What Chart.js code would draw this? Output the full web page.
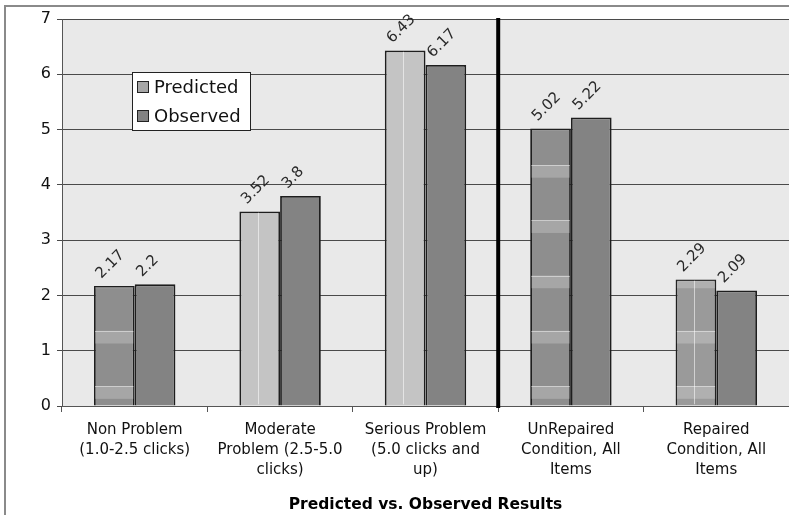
<!DOCTYPE html>
<html>
<head>
<meta charset="utf-8">
<title>Predicted vs. Observed Results</title>
<script src="https://cdn.jsdelivr.net/npm/chart.js@4/dist/chart.umd.min.js"></script>
<style>
    html, body { margin: 0; padding: 0; background: #ffffff; }
    #wrap { width: 789px; height: 515px; position: relative; }
</style>
</head>
<body>
<div id="wrap"><canvas id="resultsChart" width="789" height="515"></canvas></div>
<script>

// categories (multi-line labels as shown under the axis)
const categoryLabels = [
    ['Non Problem', '(1.0-2.5 clicks)'],
    ['Moderate', 'Problem (2.5-5.0', 'clicks)'],
    ['Serious Problem', '(5.0 clicks and', 'up)'],
    ['UnRepaired', 'Condition, All', 'Items'],
    ['Repaired', 'Condition, All', 'Items'],
]

const predictedValues = [2.17, 3.52, 6.43, 5.02, 2.29]
const observedValues = [2.2, 3.8, 6.17, 5.22, 2.09]

const yTicks = [0, 1, 2, 3, 4, 5, 6, 7]

const seriesNames = ['Predicted', 'Observed']
const predictedColors = ['#8e8e8e', '#c4c4c4', '#c4c4c4', '#8e8e8e', '#9a9a9a']
const observedColor = '#838383'
// which predicted bars get the striped fill (horizontal bands / vertical line)
const bandedBars = [true, false, false, true, true]
const ruledBars = [false, true, true, false, true]

const chartTitle = 'Predicted vs. Observed Results'


// background of the plot area + outer frame
const frameAndBackground = {
    id: 'frameAndBackground',
    beforeDraw: function(chart) {
        const ctx = chart.ctx
        const area = chart.chartArea
        ctx.save()
        ctx.fillStyle = '#ffffff'
        ctx.fillRect(0, 0, chart.width, chart.height)
        ctx.strokeStyle = '#8a8a8a'
        ctx.lineWidth = 2
        ctx.beginPath()
        ctx.moveTo(5, chart.height)
        ctx.lineTo(5, 6)
        ctx.lineTo(chart.width, 6)
        ctx.stroke()
        ctx.fillStyle = '#e9e9e9'
        ctx.fillRect(area.left, area.top, area.right - area.left, area.bottom - area.top)
        ctx.restore()
    }
}

// light bands / lines inside the predicted bars, following the y scale
const barTexture = {
    id: 'barTexture',
    afterDatasetsDraw: function(chart) {
        const ctx = chart.ctx
        const yScale = chart.scales.y
        const meta = chart.getDatasetMeta(0)
        meta.data.forEach(function(bar, j) {
            const left = bar.x - bar.width / 2 + 1
            const right = bar.x + bar.width / 2 - 1
            const top = bar.y + 1
            const bottom = bar.base - 1
            ctx.save()
            ctx.beginPath()
            ctx.rect(left, top, right - left, bottom - top)
            ctx.clip()
            if (bandedBars[j]) {
                ctx.fillStyle = 'rgba(255,255,255,0.22)'
                for (let k = 0; k < 7; k++) {
                    const y1 = yScale.getPixelForValue(k + 0.36)
                    const y2 = yScale.getPixelForValue(k + 0.13)
                    ctx.fillRect(left, y1, right - left, y2 - y1)
                    ctx.fillStyle = 'rgba(255,255,255,0.22)'
                }
                ctx.strokeStyle = 'rgba(255,255,255,0.45)'
                ctx.lineWidth = 1
                for (let k = 0; k < 7; k++) {
                    const y1 = Math.round(yScale.getPixelForValue(k + 0.36)) + 0.5
                    ctx.beginPath()
                    ctx.moveTo(left, y1)
                    ctx.lineTo(right, y1)
                    ctx.stroke()
                }
            }
            if (ruledBars[j]) {
                ctx.strokeStyle = 'rgba(255,255,255,0.55)'
                ctx.lineWidth = 1
                const x = Math.round(left + (right - left) * 0.45) + 0.5
                ctx.beginPath()
                ctx.moveTo(x, top)
                ctx.lineTo(x, bottom)
                ctx.stroke()
            }
            ctx.restore()
        })
    }
}

// thick separator between the problem groups and the condition groups
const separatorLine = {
    id: 'separatorLine',
    afterDatasetsDraw: function(chart) {
        const ctx = chart.ctx
        const xScale = chart.scales.x
        const area = chart.chartArea
        const x = (xScale.getPixelForValue(2) + xScale.getPixelForValue(3)) / 2
        ctx.save()
        ctx.strokeStyle = '#000000'
        ctx.lineWidth = 4
        ctx.beginPath()
        ctx.moveTo(x, area.top - 1)
        ctx.lineTo(x, area.bottom + 2)
        ctx.stroke()
        ctx.restore()
    }
}

// rotated value labels above each bar
const valueLabels = {
    id: 'valueLabels',
    afterDatasetsDraw: function(chart) {
        const ctx = chart.ctx
        ctx.save()
        ctx.font = '15px "DejaVu Sans"'
        ctx.fillStyle = '#2a2a2a'
        ctx.textAlign = 'left'
        ctx.textBaseline = 'alphabetic'
        chart.data.datasets.forEach(function(ds, i) {
            const meta = chart.getDatasetMeta(i)
            meta.data.forEach(function(bar, j) {
                ctx.save()
                ctx.translate(bar.x - 13, bar.y - 7)
                ctx.rotate(-Math.PI / 4)
                ctx.fillText(String(ds.data[j]), 0, 0)
                ctx.restore()
            })
        })
        ctx.restore()
    }
}

// boxed legend inside the plot, like the original
const boxLegend = {
    id: 'boxLegend',
    afterDraw: function(chart) {
        const ctx = chart.ctx
        const left = 132, top = 72, w = 118, h = 58
        ctx.save()
        ctx.fillStyle = '#ffffff'
        ctx.fillRect(left, top, w, h)
        ctx.strokeStyle = '#222222'
        ctx.lineWidth = 1
        ctx.strokeRect(left + 0.5, top + 0.5, w, h)
        ctx.font = '18px "DejaVu Sans"'
        ctx.textBaseline = 'middle'
        ctx.textAlign = 'left'
        const swatches = ['#a6a6a6', observedColor]
        seriesNames.forEach(function(name, i) {
            const y = top + 15 + i * 29
            ctx.fillStyle = swatches[i]
            ctx.fillRect(left + 5, y - 6, 12, 12)
            ctx.strokeStyle = '#222222'
            ctx.strokeRect(left + 5.5, y - 5.5, 11, 11)
            ctx.fillStyle = '#111111'
            ctx.fillText(name, left + 22, y + 1)
        })
        ctx.restore()
    }
}


const chartConfig = {
    type: 'bar',
    data: {
        labels: categoryLabels,
        datasets: [
            {
                label: seriesNames[0],
                data: predictedValues,
                backgroundColor: predictedColors,
                borderColor: '#1e1e1e',
                borderWidth: 1.8,
                categoryPercentage: 0.56,
                barPercentage: 1.0,
            },
            {
                label: seriesNames[1],
                data: observedValues,
                backgroundColor: observedColor,
                borderColor: '#1e1e1e',
                borderWidth: 1.8,
                categoryPercentage: 0.56,
                barPercentage: 1.0,
            },
        ],
    },
    options: {
        responsive: false,
        animation: false,
        layout: {
            padding: { top: 19, right: 0, left: 0, bottom: 0 }
        },
        plugins: {
            legend: { display: false },
            tooltip: { enabled: false },
        },
        scales: {
            x: {
                grid: {
                    display: true,
                    offset: true,
                    drawOnChartArea: false,
                    drawTicks: true,
                    tickLength: 6,
                    color: '#555555',
                },
                border: { color: '#555555', width: 1 },
                ticks: {
                    color: '#111111',
                    font: { family: 'DejaVu Sans', size: 15, lineHeight: 1.33 },
                    maxRotation: 0,
                    autoSkip: false,
                    padding: 8,
                },
                title: {
                    display: true,
                    text: chartTitle,
                    color: '#000000',
                    font: { family: 'DejaVu Sans', size: 15.5, weight: 'bold' },
                    padding: { top: 14, bottom: 1 },
                },
                afterFit: function(scale) { scale.height = 109 },
            },
            y: {
                min: 0,
                max: 7,
                afterBuildTicks: function(scale) {
                    scale.ticks = yTicks.map(function(v) { return { value: v } })
                },
                grid: {
                    color: '#4a4a4a',
                    tickLength: 5,
                },
                border: { color: '#555555', width: 1 },
                ticks: {
                    color: '#111111',
                    font: { family: 'DejaVu Sans', size: 16 },
                    padding: 6,
                },
                afterFit: function(scale) { scale.width = 62 },
            },
        },
    },
    plugins: [frameAndBackground, barTexture, separatorLine, valueLabels, boxLegend],
}

const resultsChart = new Chart(
    document.getElementById('resultsChart'),
    chartConfig
)

</script>
</body>
</html>
